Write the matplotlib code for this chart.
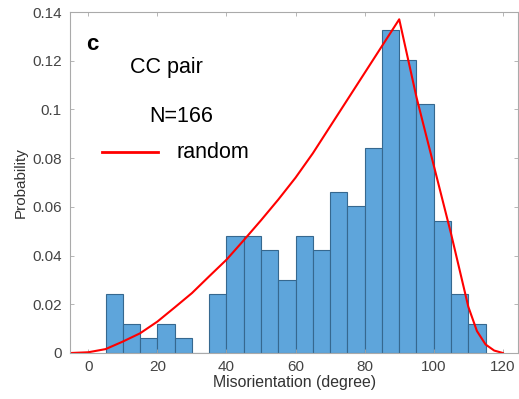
import numpy as np
import matplotlib.pyplot as plt

plt.rcParams['font.family'] = ['Liberation Sans', 'DejaVu Sans']

# histogram of misorientation angles, 5 degree bins, counts out of N=166
bin_left = [5, 10, 15, 20, 25, 30, 35, 40, 45, 50, 55, 60, 65, 70, 75,
            80, 85, 90, 95, 100, 105, 110]
counts = [4, 2, 1, 2, 1, 0, 4, 8, 8, 7, 5, 8, 7, 11, 10,
          14, 22, 20, 17, 9, 4, 2]
n_total = 166

# random (Mackenzie-type) distribution
rand_angle = [-5, 0, 5, 10, 15, 20, 25, 30, 35, 40, 45, 50, 55, 60, 65, 70,
              75, 80, 85, 90, 95, 100, 105, 107.5, 110, 112.5, 115, 117.5, 120]
rand_prob = [0.0, 0.0003, 0.0016, 0.0047, 0.0081, 0.0129, 0.0187, 0.0246,
             0.0315, 0.0383, 0.0463, 0.0545, 0.063, 0.072, 0.082, 0.093,
             0.104, 0.115, 0.126, 0.137, 0.105, 0.077, 0.049, 0.034, 0.019,
             0.009, 0.0035, 0.001, 0.0]

prob = np.array(counts) / n_total

fig = plt.figure(figsize=(5.19, 3.99), dpi=100)
ax = fig.add_axes([70 / 519, 1 - 353 / 399, 448.4 / 519, 341 / 399])

ax.bar(bin_left, prob, width=5, align='edge', color='#5ea5db',
       edgecolor='#36688f', linewidth=0.8)
line, = ax.plot(rand_angle, rand_prob, color='#ff0000', linewidth=1.5)

ax.set_xlim(-5.3, 124.5)
ax.set_ylim(0, 0.14)
ax.set_xticks([0, 20, 40, 60, 80, 100, 120])
ax.set_yticks([0, 0.02, 0.04, 0.06, 0.08, 0.1, 0.12, 0.14])
ax.set_yticklabels(['0', '0.02', '0.04', '0.06', '0.08', '0.1', '0.12', '0.14'])
ax.tick_params(direction='in', length=3, width=0.6, colors='#aaaaaa',
               labelcolor='#444444', labelsize=11, top=True, right=True)
ax.tick_params(axis='y', pad=6)
ax.tick_params(axis='x', pad=5)
for s in ax.spines.values():
    s.set_color('#aaaaaa')
    s.set_linewidth(0.8)

ax.set_xlabel('Misorientation (degree)', fontsize=11.4, color='#333333', labelpad=1)
ax.set_ylabel('Probability', fontsize=11, color='#333333', labelpad=3)

ax.text(86 / 519, 1 - 45 / 399, 'c', transform=fig.transFigure,
        fontsize=16, fontweight='bold', va='center', ha='left')
ax.text(130 / 519, 1 - 68 / 399, 'CC pair', transform=fig.transFigure,
        fontsize=15.5, va='center', ha='left')
ax.text(149 / 519, 1 - 117 / 399, 'N=166', transform=fig.transFigure,
        fontsize=15.5, va='center', ha='left')
fig.lines.append(plt.Line2D([102 / 519, 158 / 519], [1 - 152 / 399, 1 - 152 / 399],
                            transform=fig.transFigure, color='#ff0000', linewidth=2))
ax.text(176 / 519, 1 - 152 / 399, 'random', transform=fig.transFigure,
        fontsize=15.5, va='center', ha='left')

fig.savefig('out.png', dpi=100)
